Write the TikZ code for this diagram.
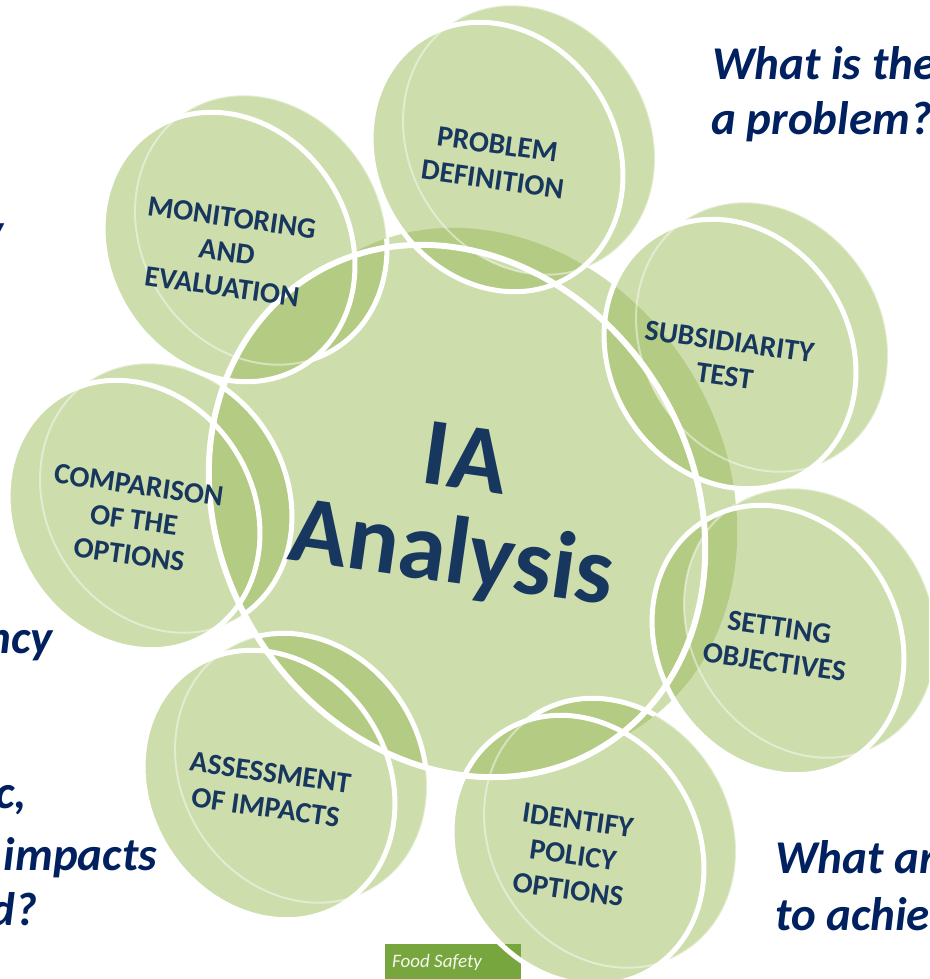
\documentclass[tikz,border=0pt]{standalone}
\usepackage{fontspec}
\setmainfont{Carlito}
\usetikzlibrary{positioning}
\definecolor{iaLight}{HTML}{CDDDAC}
\definecolor{iaDark}{HTML}{B4CB84}
\definecolor{iaNavy}{HTML}{17375E}
\definecolor{iaBlue}{HTML}{002060}
\definecolor{iaLeaf}{HTML}{78A63E}
\tikzset{
  satdisk/.style={x radius=140, y radius=120},
  hubdisk/.style={x radius=277, y radius=236},
  ringline/.style={draw=white, line width=5pt},
  faintline/.style={draw=white, line width=2pt, draw opacity=0.45},
  satlabel/.style={text=iaNavy, font=\fontsize{29.5}{35}\selectfont\bfseries, align=center, rotate=-8},
  question/.style={text=iaBlue, font=\fontsize{47}{56}\selectfont\bfseries\itshape, inner sep=0pt},
}
\begin{document}
\begin{tikzpicture}[x=1pt,y=-1pt]
\useasboundingbox (0,0) rectangle (929,979);
\clip (0,0) rectangle (929,979);
% centres of the discs (front face, back face)
\coordinate (H) at (457,511);
\coordinate (H-bk) at (489,494);
\foreach \n/\x/\y in {P/497/157,S/730/354,O/778/640,I/578/850,A/269/785,C/134/515,M/229/247}{
  \coordinate (\n) at (\x,\y);
  \coordinate (\n-bk) at (\x+32,\y-17);
}
\begin{scope}[rotate=-58]
  \fill[iaLight] (H) ellipse[hubdisk] (H-bk) ellipse[hubdisk];
  \foreach \n in {P,S,O,I,A,C,M}
    \fill[iaLight] (\n) ellipse[satdisk] (\n-bk) ellipse[satdisk];
  % overlap with the hub
  \foreach \n in {P,S,O,I,A,C,M}{
    \begin{scope}
      \clip (H) ellipse[hubdisk] (H-bk) ellipse[hubdisk];
      \fill[iaDark] (\n) ellipse[satdisk] (\n-bk) ellipse[satdisk];
    \end{scope}}
  \foreach \n in {P,S,O}{
    \begin{scope}
      \clip (H) ellipse[hubdisk];
      \fill[iaLight] (\n-bk) ellipse[satdisk];
    \end{scope}}
  \foreach \n in {I,A,C,M}{
    \begin{scope}
      \clip (H) ellipse[hubdisk] (H-bk) ellipse[hubdisk];
      \draw[ringline] (\n-bk) ellipse[satdisk];
      \fill[iaDark] (\n) ellipse[satdisk];
    \end{scope}}
  \foreach \n in {P,S,O,I,A,C,M}
    \draw[faintline] (\n-bk) ellipse[satdisk];
\end{scope}
% footer tag
\fill[iaLeaf] (385,944) rectangle (521,985);
\node[anchor=base west, inner sep=0pt, text=white!92!iaLeaf, font=\fontsize{19}{21}\selectfont\itshape] (tag) at (392,967) {Food Safety};
% white rims
\begin{scope}[rotate=-58]
  \draw[ringline, line width=6pt] (H) ellipse[hubdisk];
  \foreach \n in {P,S,O,I,A,C,M}
    \draw[ringline] (\n) ellipse[satdisk];
\end{scope}
% labels
\node[text=iaNavy, font=\fontsize{96}{95}\selectfont\bfseries, align=center, rotate=-8] (hub) at (458,512) {IA\\Analysis};
\foreach \n/\x/\y/\t in {P/495/157/{PROBLEM\\DEFINITION},S/727/354/{SUBSIDIARITY\\TEST},O/777/640/{SETTING\\OBJECTIVES},I/573/850/{IDENTIFY\\POLICY\\OPTIONS},A/268/785/{ASSESSMENT\\OF IMPACTS},C/134/515/{COMPARISON\\OF THE\\OPTIONS},M/227/247/{MONITORING\\AND\\EVALUATION}}
  \node[satlabel] (\n-lab) at (\x,\y+5) {\t};
% questions
\node[question, anchor=base west] (q1a) at (712,80) {What is the};
\node[question, anchor=base west] (q1b) at (711,135) {a problem?};
\node[question, anchor=base east] (q2a) at (4,246) {y};
\node[question, anchor=base east] (q3a) at (53,653) {ncy};
\node[question, anchor=base east] (q4a) at (27,808) {c,};
\node[question, anchor=base east] (q4b) at (157,870) {impacts};
\node[question, anchor=base east] (q4c) at (37,925) {d?};
\node[question, anchor=base west] (q5a) at (775,873) {What ar};
\node[question, anchor=base west] (q5b) at (775,930) {to achie};
\end{tikzpicture}
\end{document}
